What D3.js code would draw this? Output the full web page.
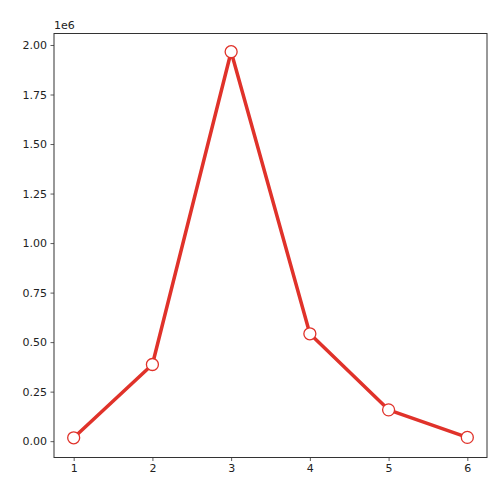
<!DOCTYPE html>
<html>
<head>
<meta charset="utf-8">
<script src="https://cdn.jsdelivr.net/npm/d3@7"></script>
<style>
  body { margin: 0; background: #fff; }
  svg text { font-family: "DejaVu Sans", sans-serif; font-size: 11px; fill: #222; }
</style>
</head>
<body>
<svg width="501" height="491"></svg>
<script>
const xs = [1, 2, 3, 4, 5, 6]
const ys = [0.017e6, 0.387e6, 1.966e6, 0.542e6, 0.158e6, 0.019e6]
const yTicks = [0, 0.25e6, 0.5e6, 0.75e6, 1e6, 1.25e6, 1.5e6, 1.75e6, 2e6]

const svg = d3.select('svg')
const margin = {top: 33.5, right: 14, bottom: 33.5, left: 54}
const width = +svg.attr('width')
const height = +svg.attr('height')

const x = d3.scaleLinear().domain([0.75, 6.25]).range([margin.left, width - margin.right])
const y = d3.scaleLinear().domain([-0.0825e6, 2.058e6]).range([height - margin.bottom, margin.top])

const red = '#e0322a'

// line
const line = d3.line().x((d, i) => x(xs[i])).y(d => y(d))
svg.append('path')
   .datum(ys)
   .attr('fill', 'none')
   .attr('stroke', red)
   .attr('stroke-width', 3.5)
   .attr('stroke-linejoin', 'round')
   .attr('d', line)

svg.selectAll('circle')
   .data(ys)
   .join('circle')
   .attr('cx', (d, i) => x(xs[i]))
   .attr('cy', d => y(d))
   .attr('r', 6)
   .attr('fill', 'white')
   .attr('stroke', red)
   .attr('stroke-width', 1.3)

// axes
const yAxis = d3.axisLeft(y).tickValues(yTicks).tickSize(3.5).tickPadding(3.5)
  .tickFormat(d => (d / 1e6).toFixed(2))
const xAxis = d3.axisBottom(x).tickValues(xs).tickSize(3.5).tickPadding(3.5)
  .tickFormat(d3.format('d'))

const gy = svg.append('g').attr('transform', `translate(${margin.left},0)`).call(yAxis)
const gx = svg.append('g').attr('transform', `translate(0,${height - margin.bottom})`).call(xAxis)
gy.select('.domain').remove()
gx.select('.domain').remove()
svg.selectAll('.tick line').attr('stroke', '#333').attr('stroke-width', 0.8)
svg.selectAll('.tick text').attr('fill', '#222').style('font-size', '11px')
  .style('font-family', '"DejaVu Sans", sans-serif')

// frame
svg.append('rect')
   .attr('x', margin.left)
   .attr('y', margin.top)
   .attr('width', width - margin.right - margin.left)
   .attr('height', height - margin.bottom - margin.top)
   .attr('fill', 'none')
   .attr('stroke', '#333')
   .attr('stroke-width', 1)

svg.append('text')
   .attr('x', margin.left)
   .attr('y', margin.top - 5)
   .text('1e6')
</script>
</body>
</html>
